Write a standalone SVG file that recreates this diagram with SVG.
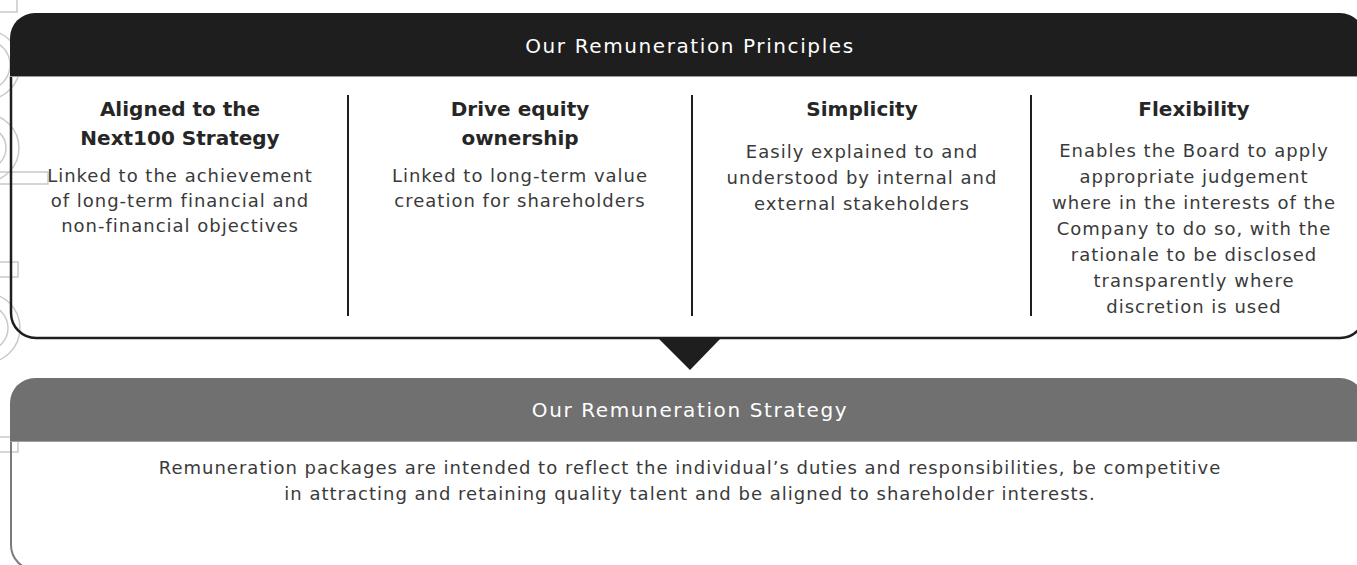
<svg xmlns="http://www.w3.org/2000/svg" width="1357" height="565" viewBox="0 0 1357 565">
<style>
  .hdr { font-family: "DejaVu Sans", "Open Sans", sans-serif; font-size: 20px; letter-spacing: 1.6px; fill: #ffffff; text-anchor: middle; }
  .ttl { font-family: "DejaVu Sans", "Open Sans", sans-serif; font-size: 20px; font-weight: 700; fill: #262626; text-anchor: middle; }
  .body { font-family: "DejaVu Sans", "Open Sans", sans-serif; font-size: 18px; letter-spacing: 1px; fill: #3a3a3a; text-anchor: middle; }
  .deco { fill: none; stroke: #c9c9c9; stroke-width: 1.5; }
  .div { stroke: #1e1e1e; stroke-width: 2; }
</style>
<rect width="1357" height="565" fill="#ffffff"/>

<g id="decor">
  <rect class="deco" x="-5" y="-5" width="22" height="17"/>
  <circle class="deco" cx="-15" cy="65" r="35"/>
  <circle class="deco" cx="-15" cy="65" r="25"/>
  <circle class="deco" cx="-15" cy="148" r="34"/>
  <circle class="deco" cx="-15" cy="148" r="21"/>
  <rect class="deco" x="-5" y="172" width="53" height="12"/>
  <rect class="deco" x="-5" y="262" width="23" height="15"/>
  <circle class="deco" cx="-15" cy="328" r="35"/>
  <circle class="deco" cx="-15" cy="328" r="23"/>
  <rect class="deco" x="-5" y="437" width="23" height="15"/>
</g>

<g id="principles">
  <path d="M11,76 V313 A25,25 0 0 0 36,338 H1340 A25,25 0 0 0 1365,313" fill="none" stroke="#1e1e1e" stroke-width="2.5"/>
  <path d="M10,76 V38 A25,25 0 0 1 35,13 H1340 A25,25 0 0 1 1365,38 V76 Z" fill="#1e1e1e"/>
  <line x1="10" y1="76.5" x2="1357" y2="76.5" stroke="#9a9a9a" stroke-width="1"/>
  <text class="hdr" x="690" y="53">Our Remuneration Principles</text>
</g>

<g id="col-aligned">
  <text class="ttl" x="180" y="116">Aligned to the</text>
  <text class="ttl" x="180" y="145">Next100 Strategy</text>
  <text class="body" x="180" y="182">Linked to the achievement</text>
  <text class="body" x="180" y="207">of long-term financial and</text>
  <text class="body" x="180" y="232">non-financial objectives</text>
</g>

<g id="col-equity">
  <text class="ttl" x="520" y="116">Drive equity</text>
  <text class="ttl" x="520" y="145">ownership</text>
  <text class="body" x="520" y="182">Linked to long-term value</text>
  <text class="body" x="520" y="207">creation for shareholders</text>
</g>

<g id="col-simplicity">
  <text class="ttl" x="862" y="116">Simplicity</text>
  <text class="body" x="862" y="158">Easily explained to and</text>
  <text class="body" x="862" y="184">understood by internal and</text>
  <text class="body" x="862" y="210">external stakeholders</text>
</g>

<g id="col-flexibility">
  <text class="ttl" x="1194" y="116">Flexibility</text>
  <text class="body" x="1194" y="157">Enables the Board to apply</text>
  <text class="body" x="1194" y="183">appropriate judgement</text>
  <text class="body" x="1194" y="209">where in the interests of the</text>
  <text class="body" x="1194" y="235">Company to do so, with the</text>
  <text class="body" x="1194" y="261">rationale to be disclosed</text>
  <text class="body" x="1194" y="287">transparently where</text>
  <text class="body" x="1194" y="313">discretion is used</text>
</g>

<g id="connectors">
  <line class="div" x1="348" y1="95" x2="348" y2="316"/>
  <line class="div" x1="692" y1="95" x2="692" y2="316"/>
  <line class="div" x1="1031" y1="95" x2="1031" y2="316"/>
  <polygon points="657,337 722,337 690,370" fill="#1e1e1e"/>
</g>

<g id="strategy">
  <path d="M11,441 V545 A25,25 0 0 0 36,570 H1340" fill="none" stroke="#7a7a7a" stroke-width="2"/>
  <path d="M10,441 V403 A25,25 0 0 1 35,378 H1340 A25,25 0 0 1 1365,403 V441 Z" fill="#707070"/>
  <line x1="10" y1="441.5" x2="1357" y2="441.5" stroke="#a0a0a0" stroke-width="1"/>
  <text class="hdr" x="690" y="417">Our Remuneration Strategy</text>
  <text class="body" x="690" y="474">Remuneration packages are intended to reflect the individual’s duties and responsibilities, be competitive</text>
  <text class="body" x="690" y="500">in attracting and retaining quality talent and be aligned to shareholder interests.</text>
</g>
</svg>
